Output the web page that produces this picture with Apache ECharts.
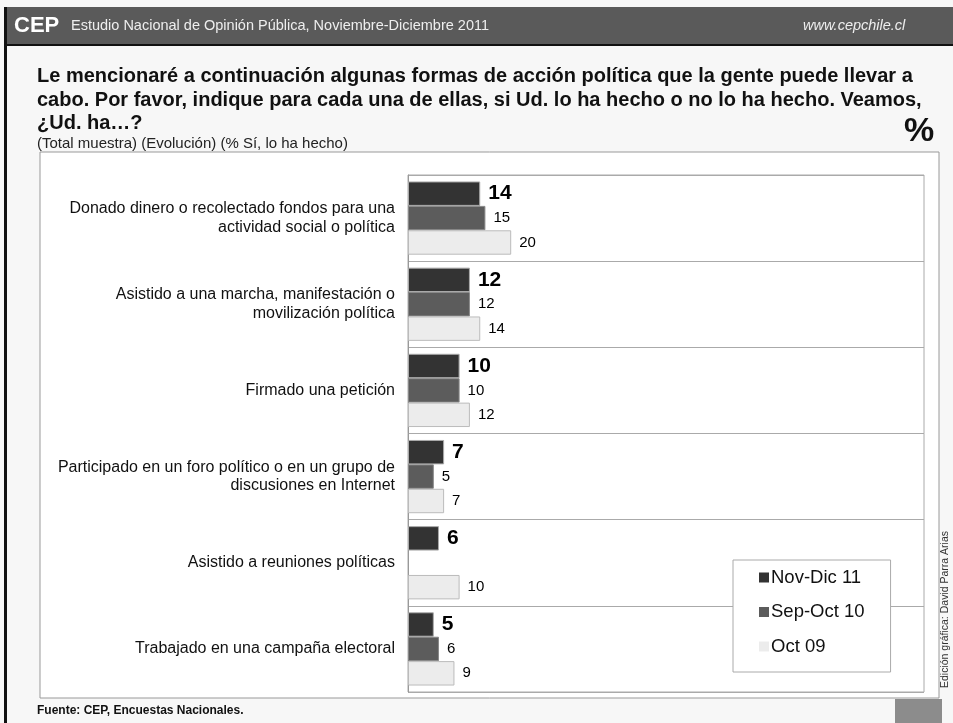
<!DOCTYPE html>
<html>
<head>
<meta charset="utf-8">
<script src="https://cdn.jsdelivr.net/npm/echarts@6/dist/echarts.min.js"></script>
<style>
html,body{margin:0;padding:0;background:#f7f7f7;}
#c{width:953px;height:723px;}
</style>
</head>
<body>
<div id="c"></div>
<script>
var categories = [
  "Donado dinero o recolectado fondos para una\nactividad social o política",
  "Asistido a una marcha, manifestación o\nmovilización política",
  "Firmado una petición",
  "Participado en un foro político o en un grupo de\ndiscusiones en Internet",
  "Asistido a reuniones políticas",
  "Trabajado en una campaña electoral"
];
var seriesNames = ["Nov-Dic 11", "Sep-Oct 10", "Oct 09"];
var novDic11 = [14, 12, 10, 7, 6, 5];
var sepOct10 = [15, 12, 10, 5, null, 6];
var oct09 = [20, 14, 12, 7, 10, 9];

var FONT = '"Liberation Sans", Arial, sans-serif';
var chart = echarts.init(document.getElementById('c'), null, {renderer: 'canvas'});

function labelCfg(bold) {
  return {
    show: true, position: 'right', distance: 8,
    fontFamily: FONT, color: '#000',
    fontSize: bold ? 21 : 15, fontWeight: bold ? 'bold' : 'normal'
  };
}

chart.setOption({
  backgroundColor: '#f7f7f7',
  animation: false,
  graphic: [
    // header bar
    {type: 'rect', shape: {x: 4, y: 7, width: 949, height: 38}, style: {fill: '#5a5a5a'}, z: 0},
    {type: 'rect', shape: {x: 4, y: 44, width: 949, height: 2}, style: {fill: '#111'}, z: 1},
    {type: 'rect', shape: {x: 4, y: 7, width: 3, height: 716}, style: {fill: '#111'}, z: 1},
    {type: 'text', left: 14, top: 15, style: {text: 'CEP', fill: '#fff', font: 'bold 22px ' + FONT}, z: 2},
    {type: 'text', left: 71, top: 18, style: {text: 'Estudio Nacional de Opinión Pública, Noviembre-Diciembre 2011', fill: '#eee', font: '14.5px ' + FONT}, z: 2},
    {type: 'text', left: 803, top: 18, style: {text: 'www.cepchile.cl', fill: '#eee', font: 'italic 14.5px ' + FONT}, z: 2},
    // title
    {type: 'text', left: 37, top: 65, style: {text: 'Le mencionaré a continuación algunas formas de acción política que la gente puede llevar a\ncabo. Por favor, indique para cada una de ellas, si Ud. lo ha hecho o no lo ha hecho. Veamos,\n¿Ud. ha…?', fill: '#111', font: 'bold 20px ' + FONT, lineHeight: 23.5}, z: 2},
    {type: 'text', left: 37, top: 136, style: {text: '(Total muestra) (Evolución) (% Sí, lo ha hecho)', fill: '#222', font: '15px ' + FONT}, z: 2},
    {type: 'text', left: 904, top: 115, style: {text: '%', fill: '#111', font: 'bold 34px ' + FONT}, z: 2},
    // outer white box
    {type: 'rect', shape: {x: 40, y: 152, width: 899, height: 546}, style: {fill: '#fff', stroke: '#999', lineWidth: 1}, z: -1},
    // footer
    {type: 'text', left: 37, top: 705, style: {text: 'Fuente: CEP, Encuestas Nacionales.', fill: '#111', font: 'bold 12px ' + FONT}, z: 2},
    {type: 'rect', shape: {x: 895, y: 699, width: 47, height: 24}, style: {fill: '#8c8c8c'}, z: 1},
    {type: 'text', x: 940, y: 688, rotation: Math.PI / 2, style: {text: 'Edición gráfica: David Parra Arias', fill: '#333', font: '10.5px ' + FONT, textAlign: 'left', textVerticalAlign: 'top'}, z: 2}
  ],
  grid: {left: 408, top: 175, right: 29, bottom: 31, show: true, borderColor: '#aaa', borderWidth: 1, backgroundColor: '#fff'},
  xAxis: {type: 'value', min: 0, max: 100, show: false},
  yAxis: {
    type: 'category', data: categories, inverse: true,
    axisLine: {show: true, lineStyle: {color: '#999'}},
    axisTick: {show: false},
    splitLine: {show: true, lineStyle: {color: '#aaa', width: 1}},
    axisLabel: {fontFamily: FONT, fontSize: 16, color: '#111', margin: 13, lineHeight: 18.5, align: 'right', padding: [4, 0, 0, 0]}
  },
  legend: {
    orient: 'vertical', left: 733, top: 560, width: 157,
    data: seriesNames,
    backgroundColor: '#fff', borderColor: '#aaa', borderWidth: 1,
    padding: [8, 26, 16, 26],
    itemWidth: 10, itemHeight: 10, itemGap: 15.5, icon: 'rect',
    itemStyle: {borderWidth: 0},
    textStyle: {fontFamily: FONT, fontSize: 18.5, color: '#111', padding: [0, 0, 0, -3]},
    z: 10
  },
  series: [
    {name: seriesNames[0], type: 'bar', data: novDic11, barGap: '0%', barCategoryGap: '15%',
     itemStyle: {color: '#333333', borderColor: '#aaaaaa', borderWidth: 1}, label: labelCfg(true)},
    {name: seriesNames[1], type: 'bar', data: sepOct10, barGap: '0%', barCategoryGap: '15%',
     itemStyle: {color: '#5c5c5c', borderColor: '#888888', borderWidth: 1}, label: labelCfg(false)},
    {name: seriesNames[2], type: 'bar', data: oct09, barGap: '0%', barCategoryGap: '15%',
     itemStyle: {color: '#ececec', borderColor: '#bbbbbb', borderWidth: 1}, label: labelCfg(false)}
  ]
});
</script>
</body>
</html>
